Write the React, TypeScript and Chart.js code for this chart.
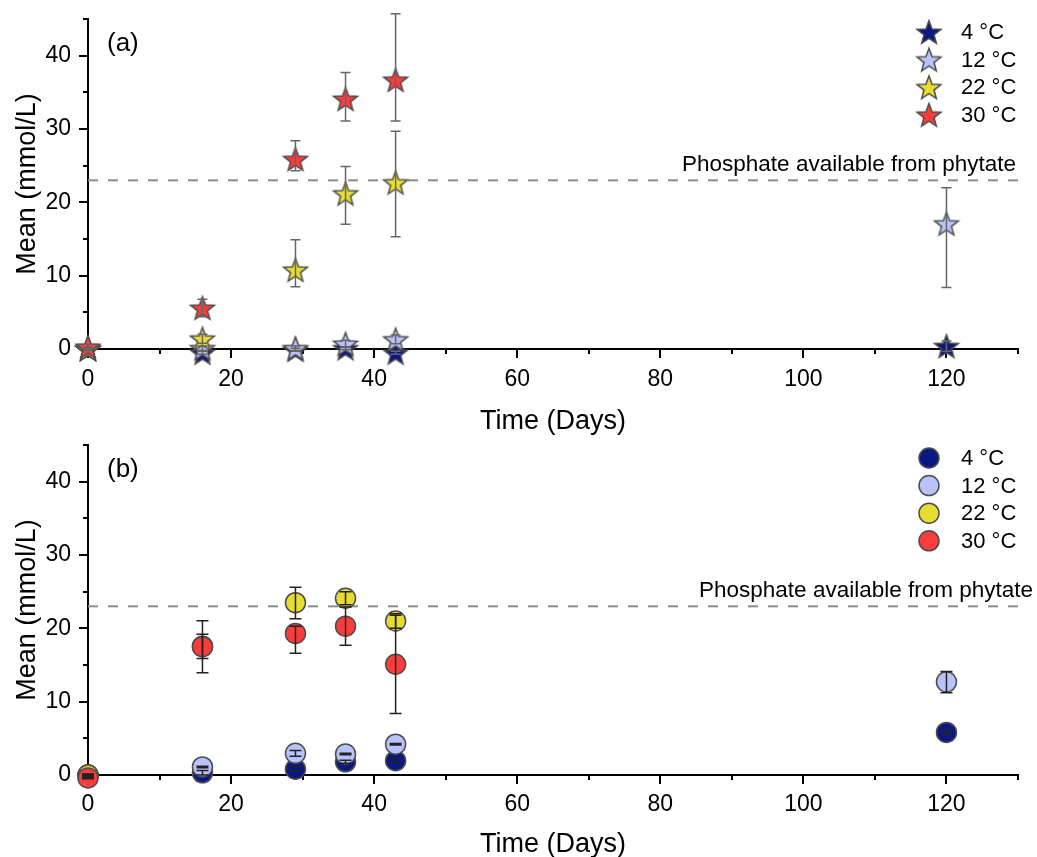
import { useEffect, useRef } from 'react';
import { Chart, registerables } from 'chart.js';

Chart.register(...registerables);

const FONT = "'Liberation Sans', Arial, Helvetica, sans-serif";

// Sampling days and series
const days = [0, 16, 29, 36, 43, 120];
const seriesLabels = ['4 °C', '12 °C', '22 °C', '30 °C'];
const seriesColors = ['#0B1883', '#B9C3FA', '#E6DC32', '#FA3C3C'];

const phytatePhosphate = 23;
const phytateLabel = 'Phosphate available from phytate';
const xTitle = 'Time (Days)';
const yTitle = 'Mean (mmol/L)';
const xRange = [0, 130];
const yRange = [0, 45];

// Panel (a): means with upper / lower error amounts (mmol/L)
const a4Mean = [0.0, -0.5, -0.1, 0.1, -0.5, 0.4];
const a4Up = [0.1, 0.2, 0.2, 0.2, 0.2, 0.7];
const a4Down = [0.1, 0.2, 0.2, 0.2, 0.2, 0.7];

const a12Mean = [0.0, 0.1, 0.1, 0.7, 1.3, 17.1];
const a12Up = [0.1, 0.3, 0.3, 0.5, 0.6, 4.9];
const a12Down = [0.1, 0.3, 0.3, 0.5, 0.6, 8.7];

const a22Mean = [0.0, 1.4, 10.8, 21.2, 22.7, null];
const a22Up = [0.2, 0.6, 4.1, 3.7, 7.0, 0];
const a22Down = [0.2, 0.6, 2.3, 4.2, 7.4, 0];

const a30Mean = [0.3, 5.6, 25.9, 34.1, 36.7, null];
const a30Up = [0.3, 1.2, 2.5, 3.6, 9.0, 0];
const a30Down = [0.3, 1.2, 1.6, 3.0, 5.6, 0];

// Panel (b)
const b4Mean = [0.0, 0.3, 0.8, 1.8, 1.95, 5.8];
const b4Up = [0.1, 0.3, 0.3, 0.2, 0.3, 0.3];
const b4Down = [0.1, 0.3, 0.3, 0.2, 0.3, 0.3];

const b12Mean = [0.0, 1.1, 2.95, 2.85, 4.2, 12.7];
const b12Up = [0.1, 0.1, 0.4, 0.1, 0.1, 1.4];
const b12Down = [0.1, 0.1, 0.4, 0.1, 0.1, 1.5];

const b22Mean = [0.0, 17.55, 23.5, 24.1, 21.0, null];
const b22Up = [0.1, 1.65, 2.1, 0.9, 1.0, 0];
const b22Down = [0.1, 1.65, 2.2, 0.9, 1.0, 0];

const b30Mean = [-0.4, 17.5, 19.3, 20.3, 15.1, null];
const b30Up = [0.1, 3.55, 1.0, 2.6, 6.7, 0];
const b30Down = [0.1, 3.55, 2.7, 2.6, 6.7, 0];

type Series = { mean: (number | null)[]; up: number[]; down: number[] };

type PanelSpec = {
  tag: string;
  marker: 'star' | 'circle';
  series: Series[];
  canvasHeight: number;
  padTop: number;
  xAxisHeight: number;
  xTitlePad: number;
  labelPad: number;
  errColor: string;
  capHalf: number;
  noteOffset: number;
};

const panelA: PanelSpec = {
  tag: '(a)',
  marker: 'star',
  series: [
    { mean: a4Mean, up: a4Up, down: a4Down },
    { mean: a12Mean, up: a12Up, down: a12Down },
    { mean: a22Mean, up: a22Up, down: a22Down },
    { mean: a30Mean, up: a30Up, down: a30Down },
  ],
  canvasHeight: 440,
  padTop: 19,
  xAxisHeight: 91,
  xTitlePad: 2,
  labelPad: 17,
  errColor: '#666666',
  capHalf: 5,
  noteOffset: -2,
};

const panelB: PanelSpec = {
  tag: '(b)',
  marker: 'circle',
  series: [
    { mean: b4Mean, up: b4Up, down: b4Down },
    { mean: b12Mean, up: b12Up, down: b12Down },
    { mean: b22Mean, up: b22Up, down: b22Down },
    { mean: b30Mean, up: b30Up, down: b30Down },
  ],
  canvasHeight: 440,
  padTop: 17,
  xAxisHeight: 93,
  xTitlePad: 7,
  labelPad: 15.5,
  errColor: '#222222',
  capHalf: 6,
  noteOffset: 15,
};

function makeStar(fill: string): HTMLCanvasElement {
  const size = 30;
  const R = 12.5;
  const r = R * 0.42;
  const c = document.createElement('canvas');
  c.width = size;
  c.height = size;
  const ctx = c.getContext('2d')!;
  const cx = size / 2;
  const cy = size / 2 + R * 0.095;
  ctx.beginPath();
  for (let k = 0; k < 10; k++) {
    const rad = k % 2 === 0 ? R : r;
    const ang = -Math.PI / 2 + (k * Math.PI) / 5;
    ctx.lineTo(cx + rad * Math.cos(ang), cy + rad * Math.sin(ang));
  }
  ctx.closePath();
  ctx.fillStyle = fill;
  ctx.fill();
  ctx.lineWidth = 1.5;
  ctx.lineJoin = 'miter';
  ctx.strokeStyle = '#4d4d4d';
  ctx.stroke();
  return c;
}

function buildChart(canvas: HTMLCanvasElement, panel: PanelSpec): Chart {
  const isStar = panel.marker === 'star';
  const stars = isStar ? seriesColors.map(makeStar) : [];

  const datasets: any[] = panel.series.map((s, k) => ({
    type: 'scatter',
    label: seriesLabels[k],
    data: days
      .map((d, i) => (s.mean[i] == null ? null : { x: d, y: s.mean[i] as number }))
      .filter((p) => p !== null),
    pointStyle: isStar ? stars[k] : 'circle',
    pointRadius: 10,
    backgroundColor: seriesColors[k],
    borderColor: '#4d4d4d',
    borderWidth: isStar ? 0 : 1.5,
    order: 4 - k,
    clip: false,
  }));

  datasets.push({
    type: 'line',
    label: 'phytate',
    data: [
      { x: xRange[0], y: phytatePhosphate },
      { x: xRange[1], y: phytatePhosphate },
    ],
    borderColor: '#8c8c8c',
    borderWidth: 2,
    borderDash: [10, 10],
    pointRadius: 0,
    order: 10,
    clip: false,
  });

  const decorations = {
    id: 'decorations' + panel.tag,
    beforeDatasetsDraw(chart: Chart) {
      const { ctx, chartArea } = chart;
      const xs = chart.scales.x;
      const ys = chart.scales.y;
      ctx.save();
      ctx.strokeStyle = '#000';
      ctx.lineWidth = 2;
      ctx.beginPath();
      for (let v = xRange[0]; v <= xRange[1]; v += 10) {
        const px = Math.round(xs.getPixelForValue(v));
        const len = v % 20 === 0 ? 9 : 5;
        ctx.moveTo(px, chartArea.bottom);
        ctx.lineTo(px, chartArea.bottom + len);
      }
      for (let v = yRange[0]; v <= yRange[1]; v += 5) {
        const py = Math.round(ys.getPixelForValue(v));
        const len = v % 10 === 0 ? 9 : 5;
        ctx.moveTo(chartArea.left, py);
        ctx.lineTo(chartArea.left - len, py);
      }
      ctx.stroke();
      ctx.restore();
    },
    afterDatasetsDraw(chart: Chart) {
      const { ctx, chartArea } = chart;
      const xs = chart.scales.x;
      const ys = chart.scales.y;
      ctx.save();
      ctx.strokeStyle = panel.errColor;
      ctx.lineWidth = 1.5;
      panel.series.forEach((s) => {
        days.forEach((d, i) => {
          const m = s.mean[i];
          if (m == null) return;
          const px = xs.getPixelForValue(d);
          const top = ys.getPixelForValue(m + s.up[i]);
          const bot = ys.getPixelForValue(m - s.down[i]);
          ctx.beginPath();
          ctx.moveTo(px, top);
          ctx.lineTo(px, bot);
          ctx.moveTo(px - panel.capHalf, top);
          ctx.lineTo(px + panel.capHalf, top);
          ctx.moveTo(px - panel.capHalf, bot);
          ctx.lineTo(px + panel.capHalf, bot);
          ctx.stroke();
        });
      });
      // reference line note
      ctx.fillStyle = '#000';
      ctx.font = `22.5px ${FONT}`;
      ctx.textAlign = 'right';
      ctx.textBaseline = 'alphabetic';
      ctx.fillText(phytateLabel, chartArea.right + panel.noteOffset, ys.getPixelForValue(phytatePhosphate) - 9);
      ctx.restore();
    },
    afterDraw(chart: Chart) {
      const { ctx, chartArea } = chart;
      ctx.save();
      // panel tag
      ctx.fillStyle = '#000';
      ctx.font = `26px ${FONT}`;
      ctx.textAlign = 'left';
      ctx.textBaseline = 'middle';
      ctx.fillText(panel.tag, chartArea.left + 19, chartArea.top + 25);
      // legend
      ctx.font = `22px ${FONT}`;
      seriesLabels.forEach((label, k) => {
        const cy = chartArea.top + 13 + 27.6 * k;
        const cx = chartArea.right - 89;
        if (isStar) {
          const img = stars[k];
          ctx.drawImage(img, cx - img.width / 2, cy - img.height / 2);
        } else {
          ctx.beginPath();
          ctx.arc(cx, cy, 10, 0, Math.PI * 2);
          ctx.fillStyle = seriesColors[k];
          ctx.fill();
          ctx.lineWidth = 1.5;
          ctx.strokeStyle = '#4d4d4d';
          ctx.stroke();
        }
        ctx.fillStyle = '#000';
        ctx.fillText(label, chartArea.right - 57, cy + 1);
      });
      ctx.restore();
    },
  };

  const tickFont = { family: FONT, size: 23 };
  const titleFont = { family: FONT, size: 27 };

  return new Chart(canvas, {
    type: 'scatter',
    data: { datasets },
    options: {
      responsive: false,
      animation: false,
      events: [],
      layout: { padding: { top: panel.padTop, right: 19, bottom: 0, left: 0 } },
      plugins: { legend: { display: false }, tooltip: { enabled: false } },
      scales: {
        x: {
          type: 'linear',
          position: 'bottom',
          min: xRange[0],
          max: xRange[1],
          grid: { display: false, drawTicks: false },
          border: { display: true, color: '#000', width: 2 },
          ticks: {
            stepSize: 10,
            autoSkip: false,
            maxRotation: 0,
            padding: panel.labelPad,
            color: '#000',
            font: tickFont,
            callback: (v: any) => (Number(v) % 20 === 0 ? String(v) : ''),
          },
          title: {
            display: true,
            text: xTitle,
            color: '#000',
            font: titleFont,
            padding: { top: 0, bottom: panel.xTitlePad },
          },
          afterFit: (scale: any) => {
            scale.height = panel.xAxisHeight;
            scale.paddingLeft = 0;
            scale.paddingRight = 0;
          },
        },
        y: {
          type: 'linear',
          min: yRange[0],
          max: yRange[1],
          grid: { display: false, drawTicks: false },
          border: { display: true, color: '#000', width: 2 },
          ticks: {
            stepSize: 5,
            autoSkip: false,
            padding: 17,
            color: '#000',
            font: tickFont,
            callback: (v: any) => (Number(v) % 10 === 0 ? String(v) : ''),
          },
          title: {
            display: true,
            text: yTitle,
            color: '#000',
            font: titleFont,
            padding: { top: 11, bottom: 0 },
          },
          afterFit: (scale: any) => {
            scale.width = 88;
            scale.paddingTop = 0;
            scale.paddingBottom = 0;
          },
        },
      },
    } as any,
    plugins: [decorations as any],
  });
}

export default function App() {
  const topRef = useRef<HTMLCanvasElement>(null);
  const bottomRef = useRef<HTMLCanvasElement>(null);

  useEffect(() => {
    const charts: Chart[] = [];
    if (topRef.current) charts.push(buildChart(topRef.current, panelA));
    if (bottomRef.current) charts.push(buildChart(bottomRef.current, panelB));
    return () => charts.forEach((c) => c.destroy());
  }, []);

  return (
    <div
      style={{
        position: 'absolute',
        left: 0,
        top: 0,
        width: 1037,
        height: 857,
        overflow: 'hidden',
        background: '#fff',
      }}
    >
      <canvas
        ref={topRef}
        width={1037}
        height={panelA.canvasHeight}
        style={{ position: 'absolute', left: 0, top: 0 }}
      />
      <canvas
        ref={bottomRef}
        width={1037}
        height={panelB.canvasHeight}
        style={{ position: 'absolute', left: 0, top: 428 }}
      />
    </div>
  );
}
